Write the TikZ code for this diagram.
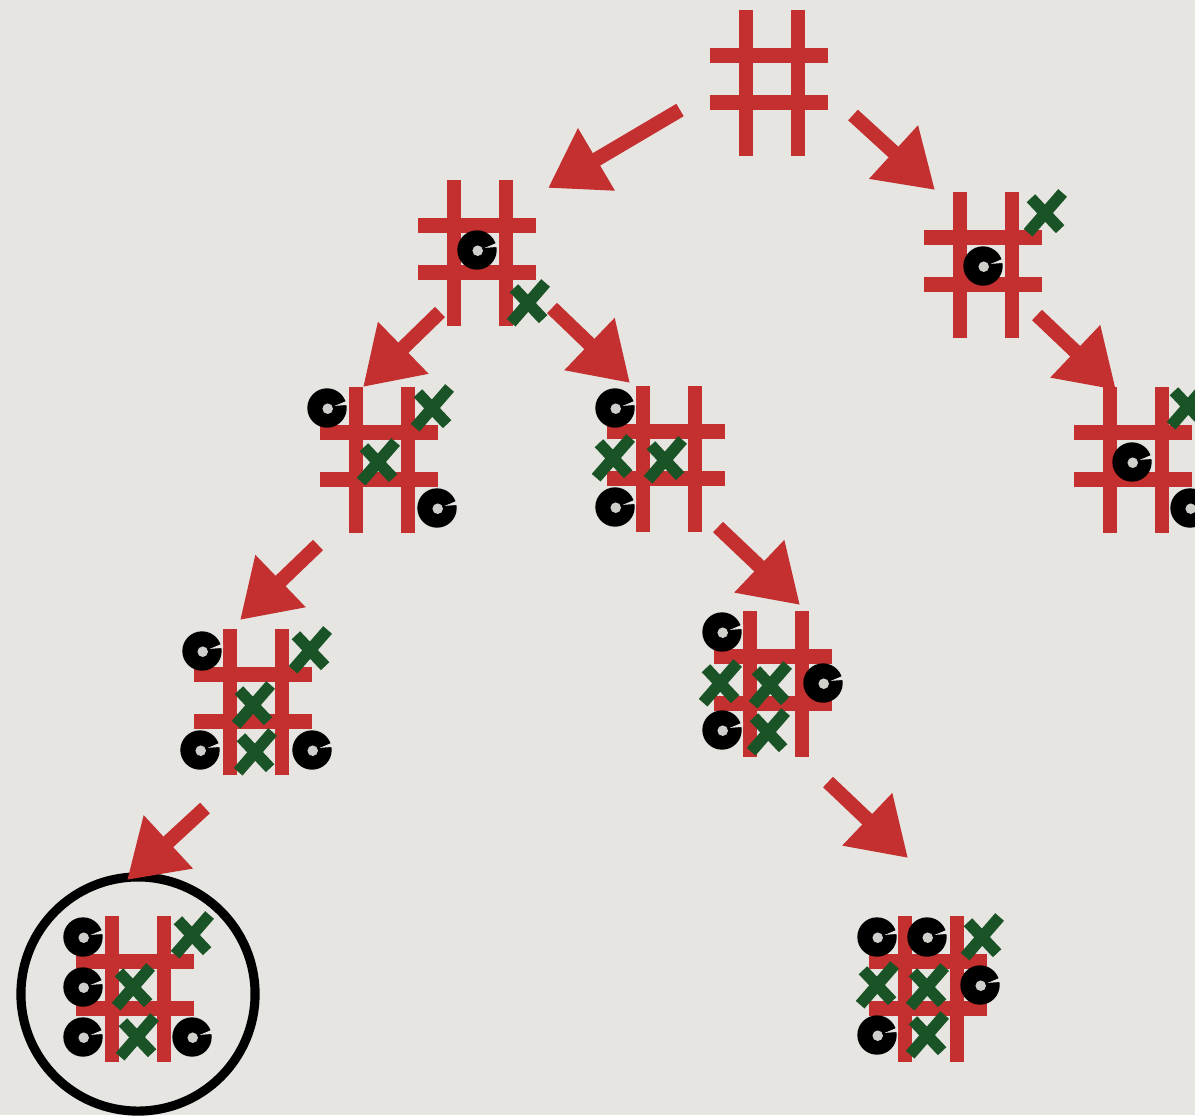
\documentclass[tikz,border=0pt]{standalone}
\usetikzlibrary{arrows.meta}
\definecolor{bg}{HTML}{E6E5E1}
\definecolor{holegray}{HTML}{CFCFCC}
\definecolor{chalkred}{HTML}{C3302F}
\definecolor{chalkgreen}{HTML}{1A5426}
\tikzset{
  redline/.style={draw=chalkred, line width=4.1pt},
  movearrow/.style={draw=chalkred, line width=4.1pt, -{Triangle[length=16pt,width=19.5pt]}},
  greenstroke/.style={draw=chalkgreen, line width=3.3pt},
  board/.pic={
    \draw[redline] (-26,-69) -- (-26,77);
    \draw[redline] (26,-69) -- (26,77);
    \draw[redline] (-62,-23.5) -- (56,-23.5);
    \draw[redline] (-62,23.5) -- (56,23.5);
  },
  xmark/.pic={
    \draw[greenstroke] (-4.8pt,-5.6pt) -- (5.0pt,5.7pt);
    \draw[greenstroke] (-4.0pt,4.2pt) -- (4.3pt,-4.6pt);
  },
  omark/.pic={
    \fill[black] (0,0) circle[radius=5.6pt];
    \fill[holegray] (0.2pt,-0.2pt) circle[radius=1.5pt];
    \fill[bg] (2.2pt,0.6pt) -- (6pt,2.2pt) -- (6pt,0.9pt) -- cycle;
  }
}
\begin{document}
\begin{tikzpicture}[x=0.01cm, y=-0.01cm]
\useasboundingbox (0,0) rectangle (1195,1115);
\fill[bg] (0,0) rectangle (1195,1115);

% board centres
\coordinate (b1) at (772,79);
\coordinate (b2) at (480,249);
\coordinate (b3) at (986,261);
\coordinate (b4) at (382,456);
\coordinate (b5) at (669,455);
\coordinate (b6) at (1136,456);
\coordinate (b7) at (256,698);
\coordinate (b8) at (776,680);
\coordinate (b9) at (931,985);
\coordinate (b10) at (138,985);

\foreach \b in {b1,b2,b3,b4,b5,b6,b7,b8,b9,b10} {\pic at (\b) {board};}

% board 2
\pic at (477,250) {omark};
\pic at (528,303) {xmark};
% board 3
\pic at (983,266) {omark};
\pic at (1045,213) {xmark};
% board 4
\pic at (327,408) {omark};
\pic at (432,408) {xmark};
\pic at (378,462) {xmark};
\pic at (437,508) {omark};
% board 5
\pic at (615,408) {omark};
\pic at (613,458) {xmark};
\pic at (665,460) {xmark};
\pic at (615,507) {omark};
% board 6
\pic at (1132,462) {omark};
\pic at (1188,406) {xmark};
\pic at (1190,508) {omark};
% board 7
\pic at (202,651) {omark};
\pic at (310,650) {xmark};
\pic at (253,705) {xmark};
\pic at (200,750) {omark};
\pic at (255,752) {xmark};
\pic at (312,750) {omark};
% board 8
\pic at (722,632) {omark};
\pic at (720,683) {xmark};
\pic at (770,685) {xmark};
\pic at (823,683) {omark};
\pic at (722,730) {omark};
\pic at (768,732) {xmark};
% board 9
\pic at (877,937) {omark};
\pic at (927,937) {omark};
\pic at (982,937) {xmark};
\pic at (877,985) {xmark};
\pic at (927,987) {xmark};
\pic at (980,985) {omark};
\pic at (877,1035) {omark};
\pic at (927,1035) {xmark};
% board 10
\pic at (83,937) {omark};
\pic at (192,935) {xmark};
\pic at (83,987) {omark};
\pic at (133,987) {xmark};
\pic at (83,1037) {omark};
\pic at (137,1037) {xmark};
\pic at (192,1037) {omark};

% ring around the final board
\node[draw=black, line width=2.6pt, circle, minimum size=2.34cm, inner sep=0pt] (ring) at (138,994) {};

% arrow end points
\coordinate (a1s) at (680,110);  \coordinate (a1e) at (548,188);
\coordinate (a2s) at (853,115);  \coordinate (a2e) at (935,190);
\coordinate (a3s) at (440,312);  \coordinate (a3e) at (363,387);
\coordinate (a4s) at (552,308);  \coordinate (a4e) at (630,383);
\coordinate (a5s) at (1037,315); \coordinate (a5e) at (1116,390);
\coordinate (a6s) at (318,545);  \coordinate (a6e) at (240,620);
\coordinate (a7s) at (718,527);  \coordinate (a7e) at (800,605);
\coordinate (a8s) at (205,808);  \coordinate (a8e) at (127,880);
\coordinate (a9s) at (828,782);  \coordinate (a9e) at (908,858);

\foreach \i in {1,...,9} {\draw[movearrow] (a\i s) -- (a\i e);}
\end{tikzpicture}
\end{document}
